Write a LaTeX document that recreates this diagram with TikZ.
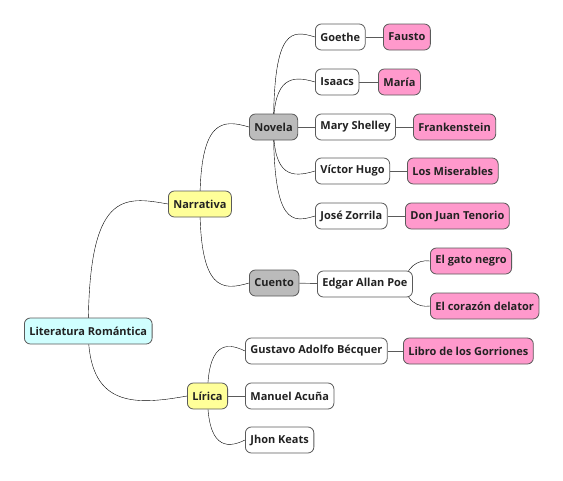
\documentclass[tikz,border=0pt]{standalone}
\usepackage{fontspec}
\setmainfont{Open Sans}
\usetikzlibrary{backgrounds,calc}
\definecolor{rootfill}{RGB}{208,255,255}
\definecolor{groupfill}{RGB}{255,255,153}
\definecolor{kindfill}{RGB}{187,187,187}
\definecolor{workfill}{RGB}{255,153,204}
\definecolor{edgecol}{RGB}{90,90,90}
\definecolor{textcol}{RGB}{34,34,34}
\tikzset{
  topic/.style={draw=edgecol, fill=white, text=textcol, rounded corners=6pt,
    font=\bfseries\fontsize{11}{13}\selectfont, inner xsep=5pt, inner ysep=0pt,
    minimum height=26pt, anchor=west, line width=0.8pt},
  branch/.style={draw=edgecol, line width=0.7pt}
}
\begin{document}
\begin{tikzpicture}[x=1pt,y=1pt]
      \useasboundingbox (0,0) rectangle (563,-480);
      \draw
        (24,-331) node[topic, fill=rootfill] (root){Literatura Romántica}
        (168,-204) node[topic, fill=groupfill] (narr){Narrativa}
        (187,-396) node[topic, fill=groupfill] (lirica){Lírica}
        (249,-127) node[topic, fill=kindfill] (novela){Novela}
        (249,-283) node[topic, fill=kindfill] (cuento){Cuento}
        (315,-37) node[topic] (goethe){Goethe}
        (383,-37) node[topic, fill=workfill] (fausto){Fausto}
        (315,-82) node[topic] (isaacs){Isaacs}
        (378,-82) node[topic, fill=workfill] (maria){María}
        (315,-127) node[topic] (shelley){Mary Shelley}
        (413,-127) node[topic, fill=workfill] (frank){Frankenstein}
        (315,-171) node[topic] (hugo){Víctor Hugo}
        (407,-171) node[topic, fill=workfill] (miser){Los Miserables}
        (315,-216) node[topic] (zorrila){José Zorrila}
        (405,-216) node[topic, fill=workfill] (tenorio){Don Juan Tenorio}
        (317,-284) node[topic] (poe){Edgar Allan Poe}
        (430,-261) node[topic, fill=workfill] (gato){El gato negro}
        (430,-306) node[topic, fill=workfill] (corazon){El corazón delator}
        (245,-351) node[topic] (becquer){Gustavo Adolfo Bécquer}
        (403,-351) node[topic, fill=workfill] (libro){Libro de los Gorriones}
        (245,-396) node[topic] (acuna){Manuel Acuña}
        (245,-440) node[topic] (keats){Jhon Keats};
      \coordinate (poestem) at ($(poe.east)+(-8,0)$);
      \begin{scope}[on background layer, branch]
        \draw (root.center) .. controls +(0,140) and +(-45,8) .. (narr.west);
        \draw (root.center) .. controls +(0,-75) and +(-55,-10) .. (lirica.west);
        \draw (narr.center) .. controls +(0,85) and +(-27,8) .. (novela.west);
        \draw (narr.center) .. controls +(0,-87) and +(-27,-8) .. (cuento.west);
        \draw (novela.center) .. controls +(0,100) and +(-23,7) .. (goethe.west);
        \draw (novela.center) .. controls +(0,50) and +(-23,7) .. (isaacs.west);
        \draw (novela.center) .. controls +(0,-50) and +(-23,-7) .. (hugo.west);
        \draw (novela.center) .. controls +(0,-98) and +(-23,-7) .. (zorrila.west);
        \draw (poestem) .. controls +(0,16) and +(-12,2) .. (gato.west);
        \draw (poestem) .. controls +(0,-16) and +(-12,-2) .. (corazon.west);
        \draw (lirica.center) .. controls +(0,52) and +(-20,10) .. (becquer.west);
        \draw (lirica.center) .. controls +(0,-50) and +(-20,-10) .. (keats.west);
      \end{scope}
      \begin{scope}[branch]
        \draw (novela) to (shelley);
        \draw (cuento) to (poe);
        \draw (lirica) to (acuna);
        \draw (goethe) to (fausto);
        \draw (isaacs) to (maria);
        \draw (shelley) to (frank);
        \draw (hugo) to (miser);
        \draw (zorrila) to (tenorio);
        \draw (becquer) to (libro);
      \end{scope}
    \end{tikzpicture}
\end{document}
